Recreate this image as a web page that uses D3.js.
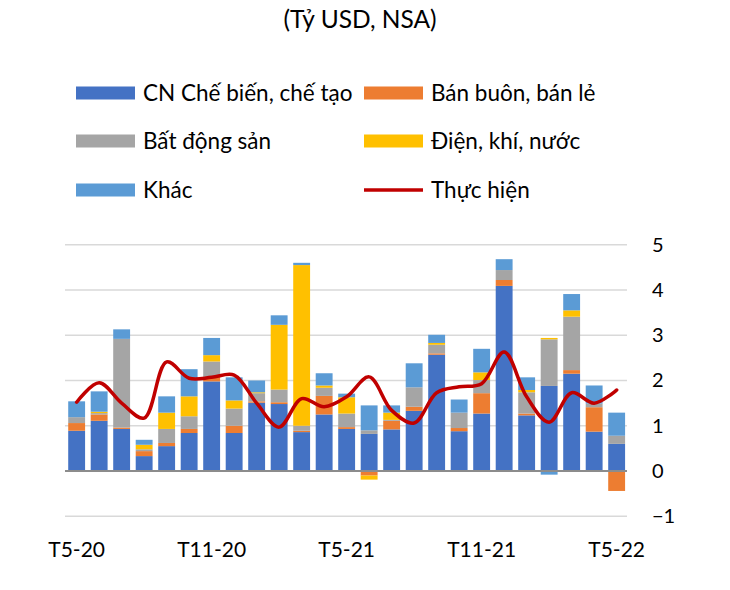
<!DOCTYPE html>
<html><head><meta charset="utf-8">
<script src="https://cdn.jsdelivr.net/npm/d3@7"></script>
<style>body{margin:0;background:#fff}svg{display:block}text{font-family:Lato,"Open Sans",sans-serif;fill:#000}</style>
</head><body><svg id="c" width="730" height="590"></svg>
<script>
const months = ["T5-20","T6-20","T7-20","T8-20","T9-20","T10-20","T11-20","T12-20","T1-21","T2-21","T3-21","T4-21","T5-21","T6-21","T7-21","T8-21","T9-21","T10-21","T11-21","T12-21","T1-22","T2-22","T3-22","T4-22","T5-22"];
const tickLabels = ["T5-20","T11-20","T5-21","T11-21","T5-22"];
const yTicks = [-1,0,1,2,3,4,5];
const manufacturing = [0.89,1.11,0.93,0.33,0.55,0.84,1.98,0.84,1.51,1.48,0.86,1.25,0.93,0.82,0.92,1.33,2.57,0.88,1.27,4.09,1.23,1.88,2.15,0.87,0.60];
const wholesale     = [0.17,0.14,0.03,0.11,0.07,0.09,0.10,0.16,0.03,0.04,0.03,0.41,0.04,-0.10,0.19,0.09,0.03,0.07,0.45,0.13,0.04,0.00,0.08,0.54,-0.44];
const realEstate    = [0.13,0.03,1.96,0.04,0.31,0.28,0.34,0.38,0.18,0.28,0.11,0.18,0.30,0.08,0.02,0.43,0.19,0.34,0.29,0.22,0.47,1.03,1.18,0.08,0.18];
const utilities     = [0.00,0.03,0.00,0.10,0.36,0.44,0.14,0.18,0.02,1.43,3.55,0.05,0.36,-0.09,0.16,0.00,0.04,0.00,0.17,0.00,0.05,0.03,0.14,0.00,0.00];
const other         = [0.35,0.45,0.21,0.11,0.36,0.60,0.38,0.51,0.26,0.21,0.05,0.27,0.08,0.55,0.16,0.53,0.18,0.29,0.52,0.24,0.28,-0.08,0.36,0.40,0.51];
const disbursed     = [1.52,1.95,1.50,1.17,2.41,2.05,2.07,2.12,1.50,0.97,1.60,1.42,1.64,2.08,1.34,1.06,1.73,1.86,1.93,2.63,1.64,1.08,1.73,1.50,1.79];
const seriesNames = ["CN Chế biến, chế tạo","Bán buôn, bán lẻ","Bất động sản","Điện, khí, nước","Khác"];
const lineName = "Thực hiện";
const colors = ["#4472C4","#ED7D31","#A5A5A5","#FFC000","#5B9BD5"];
const lineColor = "#C00000";

const svg = d3.select("#c");
const keys = ["s0","s1","s2","s3","s4"];
const seriesArr = [manufacturing, wholesale, realEstate, utilities, other];
const table = months.map((m,i)=>{const o={month:m}; keys.forEach((k,j)=>o[k]=seriesArr[j][i]); return o;});
const stacked = d3.stack().keys(keys).offset(d3.stackOffsetDiverging)(table);

const x = d3.scaleBand().domain(months).range([65.4,627.9]).paddingInner(0.25).paddingOuter(0.125);
const y = d3.scaleLinear().domain([-1,5]).range([516.3,244.7]);

// gridlines
svg.append("g").selectAll("line").data(yTicks.filter(d=>d!==0)).join("line")
  .attr("x1",65).attr("x2",627).attr("y1",d=>y(d)).attr("y2",d=>y(d))
  .attr("stroke","#D9D9D9").attr("stroke-width",1.5);

// bars
svg.append("g").selectAll("g").data(stacked).join("g")
  .attr("fill",(d,i)=>colors[i])
  .selectAll("rect").data(d=>d).join("rect")
  .attr("x",d=>x(d.data.month)).attr("width",x.bandwidth())
  .attr("y",d=>y(Math.max(d[0],d[1]))).attr("height",d=>Math.abs(y(d[0])-y(d[1])));

// zero line
svg.append("line").attr("x1",65).attr("x2",627).attr("y1",y(0)).attr("y2",y(0))
  .attr("stroke","#8C8C8C").attr("stroke-width",2);

// line
const line = d3.line().x((d,i)=>x(months[i])+x.bandwidth()/2).y(d=>y(d)).curve(d3.curveCatmullRom.alpha(0.5));
svg.append("path").datum(disbursed).attr("d",line).attr("fill","none")
  .attr("stroke",lineColor).attr("stroke-width",3.5).attr("stroke-linejoin","round").attr("stroke-linecap","round");

// right y axis labels
const yAxis = d3.axisRight(y).tickValues(yTicks).tickSize(0).tickPadding(0).tickFormat(d3.format("d"));
const ya = svg.append("g").attr("transform","translate(652,0)").call(yAxis);
ya.select(".domain").remove();
ya.selectAll("text").attr("font-size",20).attr("font-family","Lato").attr("fill","#000");

// x axis labels
const xAxis = d3.axisBottom(x).tickValues(tickLabels).tickSize(0).tickPadding(0);
const xa = svg.append("g").attr("transform","translate(0,542)").call(xAxis);
xa.select(".domain").remove();
xa.selectAll("text").attr("font-size",21).attr("font-family","Lato").attr("fill","#000");

// title
svg.append("text").attr("x",360).attr("y",28).attr("text-anchor","middle").attr("font-size",24.5).text("(Tỷ USD, NSA)");

// legend
const legendItems = [
  {name:seriesNames[0],color:colors[0],col:0,row:0,type:"rect"},
  {name:seriesNames[1],color:colors[1],col:1,row:0,type:"rect"},
  {name:seriesNames[2],color:colors[2],col:0,row:1,type:"rect"},
  {name:seriesNames[3],color:colors[3],col:1,row:1,type:"rect"},
  {name:seriesNames[4],color:colors[4],col:0,row:2,type:"rect"},
  {name:lineName,color:lineColor,col:1,row:2,type:"line"}
];
const colX=[76,364], rowY=[93,141,190];
const lg = svg.append("g").selectAll("g").data(legendItems).join("g")
  .attr("transform",d=>`translate(${colX[d.col]},${rowY[d.row]})`);
lg.filter(d=>d.type==="rect").append("rect").attr("x",0).attr("y",-6.5).attr("width",59).attr("height",13).attr("fill",d=>d.color);
lg.filter(d=>d.type==="line").append("line").attr("x1",0).attr("x2",59).attr("y1",0).attr("y2",0).attr("stroke",d=>d.color).attr("stroke-width",3.5);
lg.append("text").attr("x",67).attr("y",0).attr("dy","0.35em").attr("font-size",22.5).text(d=>d.name);
</script></body></html>
